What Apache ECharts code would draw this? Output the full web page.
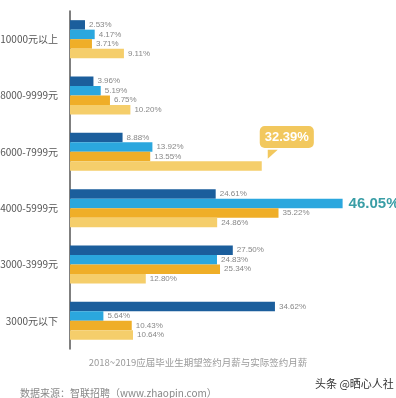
<!DOCTYPE html>
<html>
<head>
<meta charset="utf-8">
<script src="https://cdn.jsdelivr.net/npm/echarts@6/dist/echarts.min.js"></script>
<style>
  html, body { margin: 0; padding: 0; background: #fff; }
  #main { width: 396px; height: 398px; }
</style>
</head>
<body>
<div id="main"></div>
<script>
var categories = ['10000元以上', '8000-9999元', '6000-7999元', '4000-5999元', '3000-3999元', '3000元以下'];
var seriesA = [2.53, 3.96, 8.88, 24.61, 27.50, 34.62];
var seriesB = [4.17, 5.19, 13.92, 46.05, 24.83, 5.64];
var seriesC = [3.71, 6.75, 13.55, 35.22, 25.34, 10.43];
var seriesD = [9.11, 10.20, 32.39, 24.86, 12.80, 10.64];
var colors = ['#1b5e9c', '#2ba7de', '#efae28', '#f5ce6b'];

var chart = echarts.init(document.getElementById('main'));

var baseLabel = {
  show: true,
  position: 'right',
  distance: 4,
  fontSize: 8,
  color: '#888',
  fontFamily: 'Liberation Sans',
  formatter: function(p) { return p.value.toFixed(2) + '%'; }
};

// 突出显示的两个数
function makeData(values, seriesIdx) {
  return values.map(function(v, i) {
    if (seriesIdx === 1 && i === 3) {
      return {
        value: v,
        label: { fontSize: 15, fontWeight: 'bold', color: '#3a9ea6', distance: 6 }
      };
    }
    if (seriesIdx === 3 && i === 2) {
      return {
        value: v,
        label: {
          fontSize: 13, fontWeight: 'bold', color: '#fff',
          backgroundColor: '#f2c85e', borderRadius: 5,
          padding: [5, 5, 4, 5], offset: [-6, -29]
        }
      };
    }
    return v;
  });
}

var graphics = [
  {
    type: 'text', left: 'center', top: 358,
    style: { text: '2018~2019应届毕业生期望签约月薪与实际签约月薪', fontSize: 9.5, fill: '#9a9a9a', fontFamily: 'Noto Sans CJK SC' }
  },
  {
    type: 'text', left: 20, top: 388,
    style: { text: '数据来源：智联招聘（www.zhaopin.com）', fontSize: 10, fill: '#888', fontFamily: 'Noto Sans CJK SC' }
  },
  {
    type: 'text', left: 315, top: 378,
    style: { text: '头条 @晒心人社', fontSize: 11, fill: '#333', fontFamily: 'Noto Sans CJK SC' }
  }
];

var option = {
  animation: false,
  grid: { left: 70, right: 30, top: 11, bottom: 49, outerBoundsMode: 'none' },
  xAxis: {
    type: 'value', min: 0, max: 50,
    show: false
  },
  yAxis: {
    type: 'category',
    data: categories,
    inverse: true,
    axisLine: { show: true, lineStyle: { color: '#555', width: 1.5 } },
    axisTick: { show: false },
    axisLabel: { fontSize: 10, color: '#555', margin: 12, fontFamily: 'Noto Sans CJK SC' }
  },
  series: [seriesA, seriesB, seriesC, seriesD].map(function(vals, idx) {
    return {
      type: 'bar',
      data: makeData(vals, idx),
      barWidth: 9.5,
      barGap: '0%',
      itemStyle: { color: colors[idx] },
      label: baseLabel
    };
  }),
  graphic: graphics
};

chart.setOption(option);

// 气泡的小尾巴
var px = chart.convertToPixel({ xAxisIndex: 0 }, seriesD[2]);
var py = chart.convertToPixel({ yAxisIndex: 0 }, categories[2]) + 14;
graphics.push({
  type: 'polygon',
  z: 100,
  shape: { points: [[px + 6, py - 16], [px + 16, py - 16], [px + 6, py - 7]] },
  style: { fill: '#f2c85e' }
});
chart.setOption({ graphic: graphics });
</script>
</body>
</html>
